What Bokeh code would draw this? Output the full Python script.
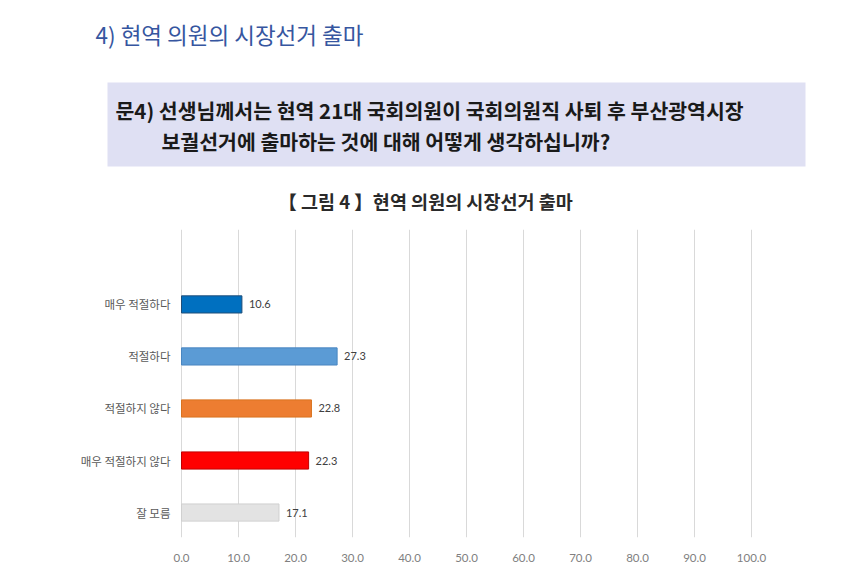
from bokeh.plotting import figure
from bokeh.layouts import column
from bokeh.models import Range1d, FixedTicker, NumeralTickFormatter, ColumnDataSource
from bokeh.core.properties import value
from bokeh.embed import file_html
from bokeh.resources import INLINE

# ---- data ----
categories = ["매우 적절하다", "적절하다", "적절하지 않다", "매우 적절하지 않다", "잘 모름"]
percentages = [10.6, 27.3, 22.8, 22.3, 17.1]
bar_colors = ["#0070C0", "#5B9BD5", "#ED7D31", "#FF0000", "#E3E3E3"]
bar_edges = ["#1F4E79", "#4A86C0", "#D9731F", "#C00000", "#D0D0D0"]
x_ticks = [0, 10, 20, 30, 40, 50, 60, 70, 80, 90, 100]

section_title = "4) 현역 의원의 시장선거 출마"
question_line1 = "문4) 선생님께서는 현역 21대 국회의원이 국회의원직 사퇴 후 부산광역시장"
question_line2 = "보궐선거에 출마하는 것에 대해 어떻게 생각하십니까?"
chart_title = "【 그림 4 】현역 의원의 시장선거 출마"

KR = "Noto Sans CJK KR"

# ---- header figure (pixel-like coordinates) ----
top = figure(width=850, height=229, x_range=Range1d(0, 850), y_range=Range1d(229, 0),
             output_backend="svg", toolbar_location=None, min_border=0)
top.axis.visible = False
top.grid.visible = False
top.outline_line_color = None
top.background_fill_color = "white"
top.border_fill_color = "white"

top.quad(left=[107], right=[805], top=[82], bottom=[166], fill_color="#DFE0F3", line_color=None)
top.text(x=[95], y=[33], text=[section_title], text_font=value(KR), text_font_size="22.5px",
         text_color="#3656A0", text_baseline="middle", text_align="left")
top.text(x=[115], y=[109], text=[question_line1], text_font=value(KR), text_font_size="20.5px",
         text_font_style="bold", text_color="#1A1A1A", text_baseline="middle", text_align="left")
top.text(x=[161], y=[140], text=[question_line2], text_font=value(KR), text_font_size="20.5px",
         text_font_style="bold", text_color="#1A1A1A", text_baseline="middle", text_align="left")
top.text(x=[425], y=[200], text=[chart_title], text_font=value(KR), text_font_size="18.5px",
         text_font_style="bold", text_color="#2A2A2A", text_baseline="middle", text_align="center")

# ---- chart figure ----
idx = list(range(len(categories)))
src = ColumnDataSource(dict(y=idx, v=percentages, c=bar_colors, e=bar_edges, cat=categories,
                            zero=[0] * len(idx), lab=[f"{v:.1f}" for v in percentages]))

PX = 5.7  # pixels per percentage point
p = figure(width=850, height=347, x_range=Range1d(-181 / PX, 669 / PX), y_range=Range1d(4.48, -1.44),
           output_backend="svg", toolbar_location=None,
           min_border_left=0, min_border_right=0, min_border_top=0, min_border_bottom=39)
p.outline_line_color = None
p.background_fill_color = "white"
p.border_fill_color = "white"
p.yaxis.visible = False

p.hbar(y="y", left=0, right="v", height=0.33, fill_color="c", line_color="e", line_width=1, source=src)
p.text(x="v", y="y", text="lab", x_offset=7, text_baseline="middle", text_align="left",
       text_font=value("Lato"), text_font_size="11px", text_color="#404040", source=src)
p.text(x="zero", y="y", text="cat", x_offset=-11, text_baseline="middle", text_align="right",
       text_font=value(KR), text_font_size="11.5px", text_color="#595959", source=src)

p.xaxis.ticker = FixedTicker(ticks=x_ticks)
p.xaxis.formatter = NumeralTickFormatter(format="0.0")
p.xaxis.axis_line_color = None
p.xaxis.major_tick_line_color = None
p.xaxis.minor_tick_line_color = None
p.xaxis.major_label_standoff = 10
p.xaxis.major_label_text_font = "Lato"
p.xaxis.major_label_text_font_size = "11.5px"
p.xaxis.major_label_text_color = "#808080"

p.xgrid.ticker = FixedTicker(ticks=x_ticks)
p.xgrid.grid_line_color = "#D9D9D9"
p.xgrid.grid_line_width = 1
p.ygrid.grid_line_color = None

layout = column(top, p, spacing=0)
open("out.html", "w").write(file_html(layout, INLINE))
